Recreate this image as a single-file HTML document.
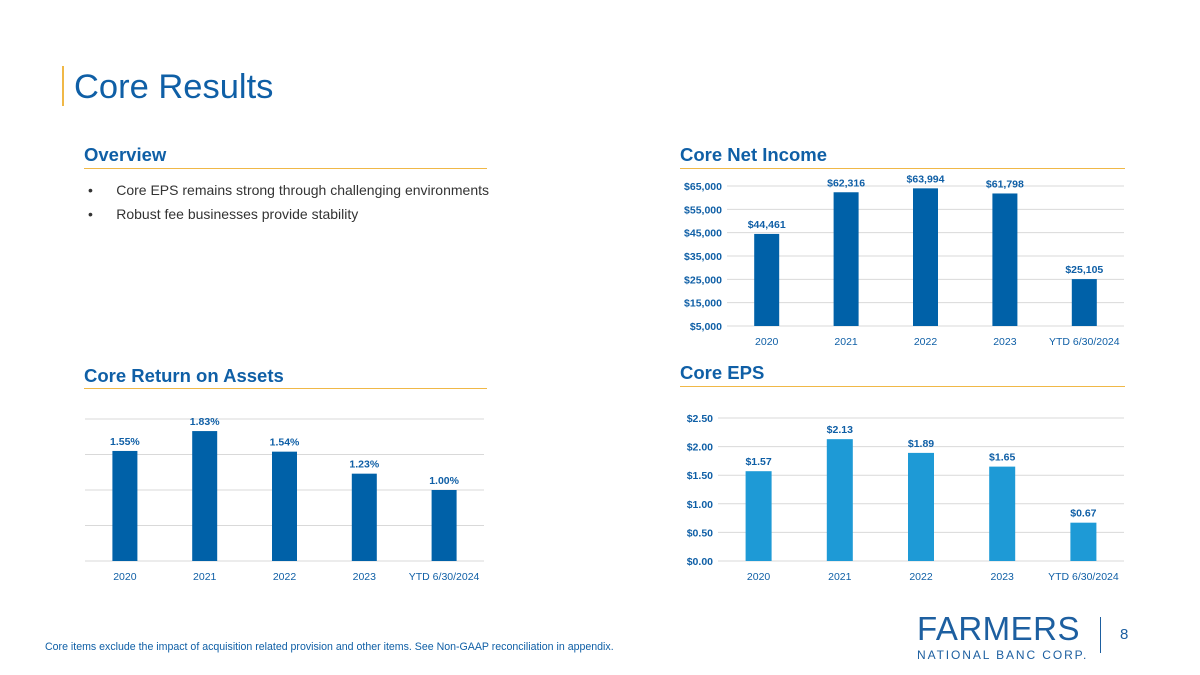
<!DOCTYPE html>
<html><head><meta charset="utf-8"><style>
body{margin:0;width:1200px;height:675px;background:#fff;font-family:"Liberation Sans",sans-serif;position:relative;overflow:hidden}
.abs{position:absolute}
.h{color:#0f5fa6;font-weight:bold;font-size:18.5px}
.rule{position:absolute;height:1px;background:#f0b847}
svg text{font-family:"Liberation Sans",sans-serif}
</style></head><body>
<div class="abs" style="left:62px;top:66px;width:2px;height:40px;background:#f0b847"></div>
<div class="abs" style="left:74px;top:68px;font-size:34.5px;color:#0f5fa6">Core Results</div>
<div class="abs h" style="left:84px;top:144px">Overview</div>
<div class="rule" style="left:84px;top:168px;width:403px"></div>
<div class="abs" style="left:88px;top:182px;font-size:14px;color:#333">•&nbsp;&nbsp;&nbsp;&nbsp;&nbsp;&nbsp;Core EPS remains strong through challenging environments</div>
<div class="abs" style="left:88px;top:206px;font-size:14px;color:#333">•&nbsp;&nbsp;&nbsp;&nbsp;&nbsp;&nbsp;Robust fee businesses provide stability</div>
<div class="abs h" style="left:680px;top:144px">Core Net Income</div>
<div class="rule" style="left:680px;top:168px;width:445px"></div>
<div class="abs h" style="left:84px;top:365px">Core Return on Assets</div>
<div class="rule" style="left:84px;top:388px;width:403px"></div>
<div class="abs h" style="left:680px;top:362px">Core EPS</div>
<div class="rule" style="left:680px;top:386px;width:445px"></div>
<div class="abs" style="left:45px;top:641px;font-size:10.6px;color:#0f5fa6">Core items exclude the impact of acquisition related provision and other items. See Non-GAAP reconciliation in appendix.</div>
<div class="abs" style="left:917px;top:612px;color:#1d5fa0">
<div style="font-size:33px;letter-spacing:0.5px;line-height:34px">FARMERS</div>
<div style="font-size:12px;letter-spacing:1.9px;margin-top:2px">NATIONAL BANC CORP.</div></div>
<div class="abs" style="left:1100px;top:617px;width:1px;height:36px;background:#1d5fa0"></div>
<div class="abs" style="left:1120px;top:626px;font-size:15px;color:#1d5fa0">8</div>
<svg class="abs" style="left:0;top:0" width="1200" height="675" id="charts"></svg>
<script>
const cats=["2020","2021","2022","2023","YTD 6/30/2024"];
const niVals=[44461,62316,63994,61798,25105];
const niLabels=["$44,461","$62,316","$63,994","$61,798","$25,105"];
const niTicks=[5000,15000,25000,35000,45000,55000,65000];
const roaVals=[1.55,1.83,1.54,1.23,1.00];
const roaTicks=[0,0.5,1,1.5,2];
const epsVals=[1.57,2.13,1.89,1.65,0.67];
const epsTicks=[0,0.5,1,1.5,2,2.5];
const svg=document.getElementById('charts');
function el(t,a){const e=document.createElementNS('http://www.w3.org/2000/svg',t);for(const k in a)e.setAttribute(k,a[k]);svg.appendChild(e);return e;}
function chart(o){
 const y=v=>o.y0-(v-o.min)/(o.max-o.min)*(o.y0-o.y1);
 const step=(o.x1-o.x0)/cats.length;
 const x=i=>o.x0+step*(i+0.5);
 o.ticks.forEach(t=>{const l=el('line',{x1:o.x0,x2:o.x1,y1:y(t),y2:y(t),stroke:'#d9d9d9','stroke-width':1});
 
 
 if(o.fmt){const tx=el('text',{x:o.x0-5,y:y(t)+4,'text-anchor':'end','font-size':10.5,'font-weight':'bold',fill:'#0f5fa6'});tx.textContent=o.fmt(t);
 
 }});
 o.vals.forEach((v,i)=>{const r=el('rect',{x:x(i)-o.bw/2,y:y(v),width:o.bw,height:o.y0-y(v),fill:o.color});
 
 
 const t=el('text',{x:x(i)+(o.lo||0),y:y(v)-6,'text-anchor':'middle','font-size':10.5,'font-weight':'bold',fill:'#0f5fa6'});t.textContent=o.labels[i];
 
 
 const c=el('text',{x:x(i),y:o.y0+19,'text-anchor':'middle','font-size':10.5,fill:'#0f5fa6'});c.textContent=cats[i];
 
 });
}
chart({name:'net-income',x0:727,x1:1124,y0:326,y1:186,min:5000,max:65000,ticks:niTicks,vals:niVals,labels:niLabels,bw:25,color:'#0061a8',fmt:t=>'$'+t.toLocaleString('en-US')});
chart({name:'roa',x0:85,x1:484,y0:561,y1:419,min:0,max:2,ticks:roaTicks,vals:roaVals,labels:roaVals.map(v=>v.toFixed(2)+'%'),bw:25,color:'#0061a8'});
chart({name:'eps',x0:718,x1:1124,y0:561,y1:418,min:0,max:2.5,ticks:epsTicks,vals:epsVals,labels:epsVals.map(v=>'$'+v.toFixed(2)),bw:26,color:'#1e9ad6',fmt:t=>'$'+t.toFixed(2)});
</script>
</body></html>
